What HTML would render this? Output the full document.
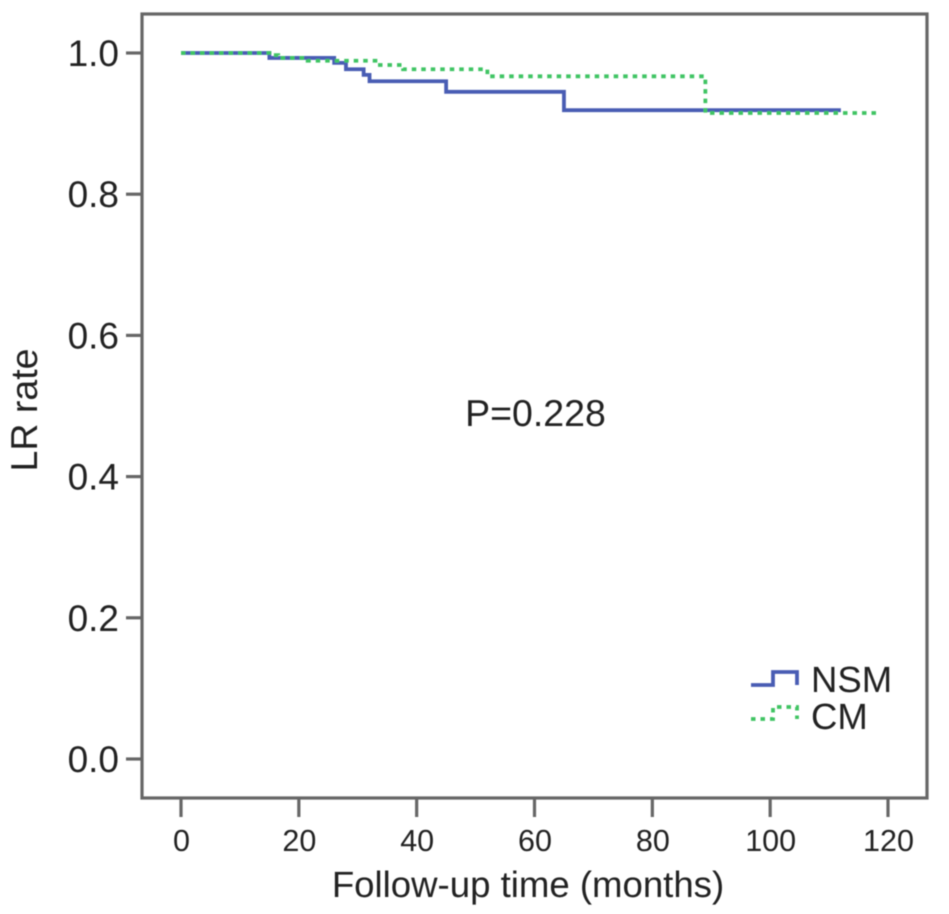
<!DOCTYPE html>
<html>
<head>
<meta charset="utf-8">
<title>LR rate chart</title>
<style>
html,body{margin:0;padding:0;background:#fff;}
svg{display:block;}
text{font-family:"Liberation Sans",Arial,sans-serif;fill:#222;text-rendering:geometricPrecision;}
</style>
</head>
<body>
<svg id="chart" width="949" height="914" viewBox="0 0 949 914" xmlns="http://www.w3.org/2000/svg">
<defs><filter id="soft" x="-5%" y="-5%" width="110%" height="110%"><feGaussianBlur stdDeviation="0.6"/></filter></defs>
<g id="root" filter="url(#soft)">
<rect x="142" y="14" width="785" height="784" fill="none" stroke="#666" stroke-width="3.2"/>
<g id="xaxis"></g>
<g id="yaxis"></g>
<g id="series"></g>
<text x="528" y="897" font-size="36.6" text-anchor="middle">Follow-up time (months)</text>
<text transform="translate(37,410) rotate(-90)" font-size="37.5" text-anchor="middle">LR rate</text>
<text x="535.5" y="426" font-size="37.5" text-anchor="middle">P=0.228</text>
<g>
<path d="M751 685H773V672H797V685" fill="none" stroke="#4a5db4" stroke-width="3.8"/>
<path d="M751 719H773V707H797V719" fill="none" stroke="#3fc463" stroke-width="3.8" stroke-dasharray="4.5 5"/>
<text x="811" y="692" font-size="36.5">NSM</text>
<text x="811" y="729" font-size="36.5">CM</text>
</g>
</g>
</svg>
<script>
const xTicks = [0, 20, 40, 60, 80, 100, 120];
const yTicks = ["0.0", "0.2", "0.4", "0.6", "0.8", "1.0"];
const nsmTime = [0, 15, 26, 28, 31, 32, 45, 65, 112];
const nsmRate = [1.0, 0.993, 0.986, 0.977, 0.969, 0.96, 0.945, 0.919, 0.919];
const cmTime = [0, 15, 16.5, 21.5, 33, 37.7, 52, 89, 118];
const cmRate = [1.0, 0.997, 0.993, 0.989, 0.983, 0.977, 0.967, 0.915, 0.915];

const NS = 'http://www.w3.org/2000/svg';
const xScale = v => 181 + v * (888 - 181) / 120;
const yScale = v => 759 - v * (759 - 53);

function stepPath(times, rates) {
  let d = 'M' + xScale(times[0]) + ' ' + yScale(rates[0]);
  for (let i = 1; i < times.length; i++) {
    d += 'H' + xScale(times[i]) + 'V' + yScale(rates[i]);
  }
  return d;
}

const xAxis = document.getElementById('xaxis');


xTicks.forEach(t => {
  const tick = document.createElementNS(NS, 'line');
  
  
  tick.setAttribute('x1', xScale(t));
  tick.setAttribute('x2', xScale(t));
  tick.setAttribute('y1', 798);
  tick.setAttribute('y2', 817);
  tick.setAttribute('stroke', '#666');
  tick.setAttribute('stroke-width', 3.2);
  xAxis.appendChild(tick);
  const label = document.createElementNS(NS, 'text');
  
  
  label.setAttribute('x', xScale(t) + 0.5);
  label.setAttribute('y', 851);
  label.setAttribute('font-size', 30.5);
  label.setAttribute('text-anchor', 'middle');
  label.textContent = t;
  xAxis.appendChild(label);
});

const yAxis = document.getElementById('yaxis');


yTicks.forEach(t => {
  const v = parseFloat(t);
  const tick = document.createElementNS(NS, 'line');
  
  
  tick.setAttribute('x1', 126);
  tick.setAttribute('x2', 142);
  tick.setAttribute('y1', yScale(v));
  tick.setAttribute('y2', yScale(v));
  tick.setAttribute('stroke', '#666');
  tick.setAttribute('stroke-width', 3.2);
  yAxis.appendChild(tick);
  const label = document.createElementNS(NS, 'text');
  
  
  label.setAttribute('x', 119);
  label.setAttribute('y', yScale(v) + 13);
  label.setAttribute('font-size', 37);
  label.setAttribute('text-anchor', 'end');
  label.textContent = t;
  yAxis.appendChild(label);
});

const seriesGroup = document.getElementById('series');
const nsmLine = document.createElementNS(NS, 'path');


nsmLine.setAttribute('d', stepPath(nsmTime, nsmRate));
nsmLine.setAttribute('fill', 'none');
nsmLine.setAttribute('stroke', '#4a5db4');
nsmLine.setAttribute('stroke-width', 3.8);
seriesGroup.appendChild(nsmLine);

const cmLine = document.createElementNS(NS, 'path');


cmLine.setAttribute('d', stepPath(cmTime, cmRate));
cmLine.setAttribute('fill', 'none');
cmLine.setAttribute('stroke', '#3fc463');
cmLine.setAttribute('stroke-width', 3.8);
cmLine.setAttribute('stroke-dasharray', '4.5 5');
seriesGroup.appendChild(cmLine);
</script>
</body>
</html>
